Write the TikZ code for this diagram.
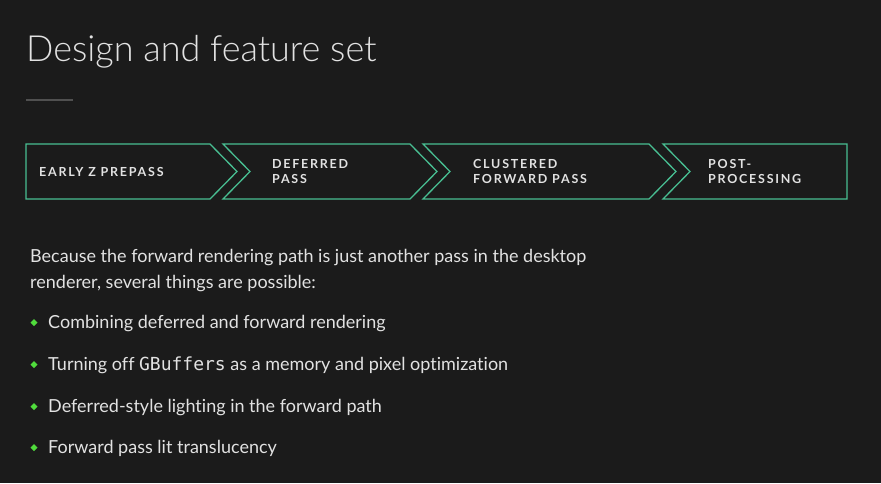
\documentclass[tikz,border=0pt]{standalone}
\usepackage{fontspec}
\setmainfont{Lato}[Ligatures=NoCommon]
\setmonofont{DejaVu Sans Mono}
\newfontfamily\titlefont{Lato Light}
\usetikzlibrary{positioning}
\definecolor{slidebg}{RGB}{27,27,27}
\definecolor{passgreen}{RGB}{72,190,146}
\definecolor{dotgreen}{RGB}{80,220,60}
\definecolor{slidetext}{RGB}{226,226,226}
\definecolor{rulegray}{RGB}{80,80,80}

\begin{document}
\begin{tikzpicture}[x=1pt,y=-1pt,
    passlabel/.style={anchor=west,inner sep=0pt,align=left,text=slidetext,
      font=\fontsize{12.5}{15}\selectfont\bfseries\addfontfeature{LetterSpace=14}},
    bodytext/.style={anchor=base west,inner sep=0pt,text=slidetext,
      font=\fontsize{18}{22}\selectfont}]
  \useasboundingbox (0,0) rectangle (881,483);
  \fill[slidebg] (0,0) rectangle (881,483);

  \node[anchor=base west,inner sep=0pt,text=slidetext,
    font=\titlefont\fontsize{36}{42}\selectfont] (title) at (26,61) {Design and feature set};
  \draw[rulegray,line width=1.5pt] (26,100) -- (73,100);

  % pass chevrons: left, right, notch, tip
  \foreach \l/\r/\n/\t in {26/210/0/27, 223/410/27/27, 423/649/27/27, 663/847/27/0}
    \draw[passgreen,line width=1.3pt,line join=miter]
      (\l,144) -- (\r,144) -- (\r+\t,171.5) -- (\r,199) -- (\l,199) -- (\l+\n,171.5) -- cycle;
  \node[passlabel] (zprepass) at (39,171.5) {EARLY Z PREPASS};
  \node[passlabel] (deferred) at (272,171.5) {DEFERRED\\PASS};
  \node[passlabel] (clustered) at (473,171.5) {CLUSTERED\\FORWARD PASS};
  \node[passlabel] (postproc) at (708,171.5) {POST-\\PROCESSING};

  \node[bodytext] (intro1) at (30,262) {Because the forward rendering path is just another pass in the desktop};
  \node[bodytext] (intro2) at (30,288) {renderer, several things are possible:};

  \foreach \y/\item [count=\i] in {328/Combining deferred and forward rendering,
      370/Turning off {\ttfamily GBuffers} as a memory and pixel optimization,
      412/Deferred-style lighting in the forward path,
      453/Forward pass lit translucency}
  {
    \fill[dotgreen] (30.5,\y-5.5) -- ++(3.5,-3.5) -- ++(3.5,3.5) -- ++(-3.5,3.5) -- cycle;
    \node[bodytext] (item\i) at (48,\y) {\item};
  }
\end{tikzpicture}
\end{document}
